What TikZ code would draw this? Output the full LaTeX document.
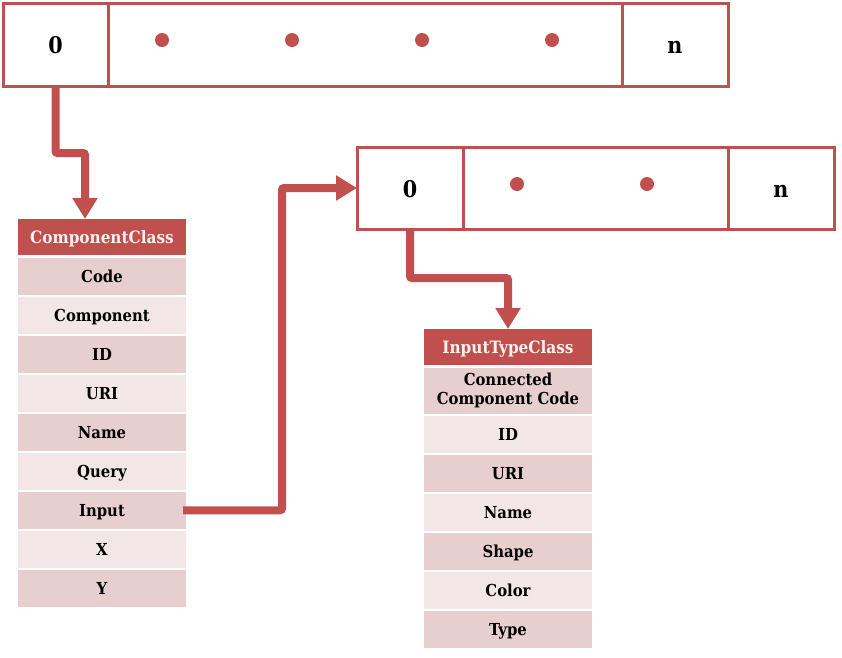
\documentclass[tikz,border=0pt]{standalone}
\usepackage{fontspec}
\setmainfont{DejaVuSerifCondensed}[Extension=.ttf,BoldFont=DejaVuSerifCondensed-Bold]
\usetikzlibrary{arrows.meta,positioning,calc}
\definecolor{red1}{HTML}{C0504D}
\definecolor{rowA}{HTML}{E8CFCF}
\definecolor{rowB}{HTML}{F2E6E6}
\definecolor{hdtxt}{HTML}{FDF2F2}
\begin{document}
\begin{tikzpicture}[x=1pt,y=-1pt,
  cell/.style={draw=red1,line width=3pt,inner sep=0pt,outer sep=0pt,anchor=north west,
    text height=18pt,text depth=0pt,font=\fontsize{23}{27}\selectfont\bfseries},
  dot/.style={circle,fill=red1,inner sep=0pt,minimum size=14pt},
  hdr/.style={fill=red1,text=hdtxt,inner sep=0pt,outer sep=0pt,anchor=north west,
    text height=16pt,text depth=4pt,
    minimum width=168pt,minimum height=36pt,font=\fontsize{17}{20}\selectfont\bfseries},
  rowa/.style={fill=rowA,inner sep=0pt,outer sep=0pt,anchor=north west,
    text height=16pt,text depth=4pt,
    minimum width=168pt,minimum height=37.5pt,font=\fontsize{16.5}{19}\selectfont\bfseries,align=center},
  rowb/.style={rowa,fill=rowB},
  arr/.style={draw=red1,line width=8pt,rounded corners=2pt,-{Triangle[length=21pt,width=24pt]}}
]
\useasboundingbox (0,0) rectangle (842,657);

% top array
\node[cell,minimum width=105pt,minimum height=83pt] (a0) at (3,3) {0};
\node[cell,minimum width=514pt,minimum height=83pt] (am) at (108,3) {};
\node[cell,minimum width=106pt,minimum height=83pt] (an) at (622,3) {n};
\node[dot] (d1) at (162,40) {};
\node[dot] (d2) at (292,40) {};
\node[dot] (d3) at (422,40) {};
\node[dot] (d4) at (552,40) {};

% second array
\node[cell,minimum width=106pt,minimum height=82pt] (b0) at (357,147) {0};
\node[cell,minimum width=265pt,minimum height=82pt] (bm) at (463,147) {};
\node[cell,minimum width=106pt,minimum height=82pt] (bn) at (728,147) {n};
\node[dot] (e1) at (517,184) {};
\node[dot] (e2) at (647,184) {};

% ComponentClass table
\node[hdr] (t1h) at (18,219) {ComponentClass};
\node[rowa] (t1r1) at (18,257.5) {Code};
\node[rowb] (t1r2) at (18,296.5) {Component};
\node[rowa] (t1r3) at (18,335.5) {ID};
\node[rowb] (t1r4) at (18,374.5) {URI};
\node[rowa] (t1r5) at (18,413.5) {Name};
\node[rowb] (t1r6) at (18,452.5) {Query};
\node[rowa] (t1r7) at (18,491.5) {Input};
\node[rowb] (t1r8) at (18,530.5) {X};
\node[rowa] (t1r9) at (18,569.5) {Y};

% InputTypeClass table
\node[hdr] (t2h) at (424,329) {InputTypeClass};
\node[rowa,text height=,text depth=,minimum height=46.5pt,font=\fontsize{16.5}{19}\selectfont\bfseries] (t2r1) at (424,367.5) {Connected\\Component Code};
\node[rowb] (t2r2) at (424,415.5) {ID};
\node[rowa] (t2r3) at (424,454.5) {URI};
\node[rowb] (t2r4) at (424,493.5) {Name};
\node[rowa] (t2r5) at (424,532.5) {Shape};
\node[rowb] (t2r6) at (424,571.5) {Color};
\node[rowa] (t2r7) at (424,610.5) {Type};

% connectors
\draw[arr] (a0.south) -- ++(0,67) -| ([xshift=-17pt]t1h.north);
\draw[arr] ([xshift=-3pt]t1r7.east) -| ([xshift=-75pt]b0.west) -- (b0.west);
\draw[arr] (b0.south) -- ++(0,49) -| (t2h.north);
\end{tikzpicture}
\end{document}
